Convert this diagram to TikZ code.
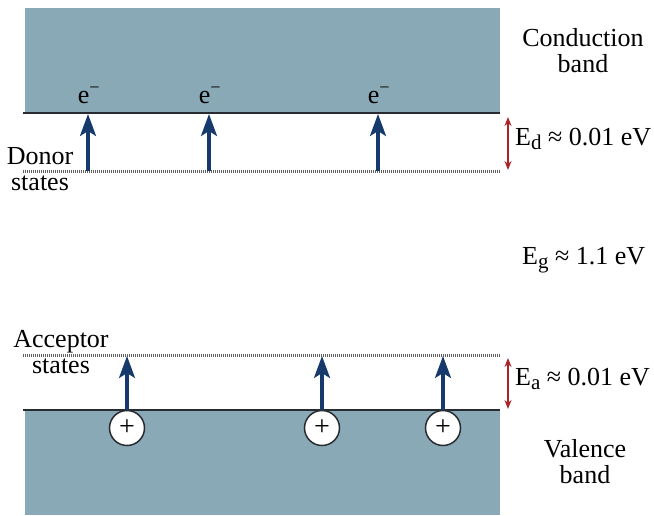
\documentclass[tikz,border=0pt]{standalone}
\usepackage{fontspec}
\setmainfont{Liberation Serif}
\usetikzlibrary{arrows.meta}
\definecolor{bandfill}{RGB}{136,169,181}
\definecolor{bandline}{RGB}{40,44,48}
\definecolor{arrblue}{RGB}{22,58,108}
\definecolor{arrred}{RGB}{168,38,40}
\definecolor{dotgray}{RGB}{95,95,95}
\newcommand{\sub}[1]{\raisebox{-0.35ex}{\fontsize{21}{21}\selectfont #1}}
\tikzset{
  bandedge/.style={draw=bandline, line width=2.2pt},
  stateline/.style={draw=dotgray, line width=3pt, dash pattern=on 1.4pt off 0.6pt},
  excite/.style={draw=arrblue, line width=3.2pt, -{Stealth[length=22pt,width=16pt,inset=5pt]}},
  gap/.style={draw=arrred, line width=1.5pt, {Stealth[length=9pt,width=7pt]}-{Stealth[length=9pt,width=7pt]}},
  hole/.style={circle, draw=bandline, line width=1.5pt, fill=white, minimum size=35pt, inner sep=0pt, font=\fontsize{28}{28}\selectfont},
  lbl/.style={inner sep=0pt, align=center},
}
\begin{document}
\begin{tikzpicture}[x=1pt,y=-1pt, font=\fontsize{26}{25.5}\selectfont]
\useasboundingbox (0,0) rectangle (654,515);
% bands
\fill[bandfill] (25,8) rectangle (500,113);
\fill[bandfill] (25,410) rectangle (500,515);
\coordinate (cbL) at (23,113); \coordinate (cbR) at (500,113);
\coordinate (dnL) at (23,171); \coordinate (dnR) at (500,171);
\coordinate (acL) at (23,355); \coordinate (acR) at (500,355);
\coordinate (vbL) at (23,410); \coordinate (vbR) at (500,410);
\draw[bandedge] (cbL) -- (cbR);
\draw[bandedge] (vbL) -- (vbR);
\draw[stateline] (dnL) -- (dnR);
\draw[stateline] (acL) -- (acR);
% donor electrons
\foreach \i/\x in {1/88, 2/209, 3/378} {
  \coordinate (d\i) at (\x,171);
  \coordinate (c\i) at (\x,114);
  \node[lbl, anchor=base] (e\i) at (\x+1,103) {e\textsuperscript{−}};
  \draw[excite] (d\i) -- (c\i);
}
% acceptor holes
\foreach \i/\x in {1/127, 2/322, 3/443} {
  \node[hole] (h\i) at (\x,428) {+};
  \coordinate (a\i) at (\x,356);
  \draw[excite] (h\i.north) -- (a\i);
}
% gap arrows
\coordinate (edT) at (508,117); \coordinate (edB) at (508,170);
\coordinate (eaT) at (508,358); \coordinate (eaB) at (508,409);
\draw[gap] (edT) -- (edB);
\draw[gap] (eaT) -- (eaB);
% labels
\node[lbl, anchor=base] (cb) at (583,72) {Conduction\\band};
\node[lbl, anchor=base] (vb) at (585,483) {Valence\\band};
\node[lbl, anchor=base west] (ed) at (515,145) {E\sub{d} ≈ 0.01 eV};
\node[lbl, anchor=base west] (eg) at (522,264) {E\sub{g} ≈ 1.1 eV};
\node[lbl, anchor=base west] (ea) at (515,385) {E\sub{a} ≈ 0.01 eV};
\node[lbl, anchor=base] (ds) at (40,190) {Donor\\states};
\node[lbl, anchor=base] (as) at (61,373) {Acceptor\\states};
\end{tikzpicture}
\end{document}
